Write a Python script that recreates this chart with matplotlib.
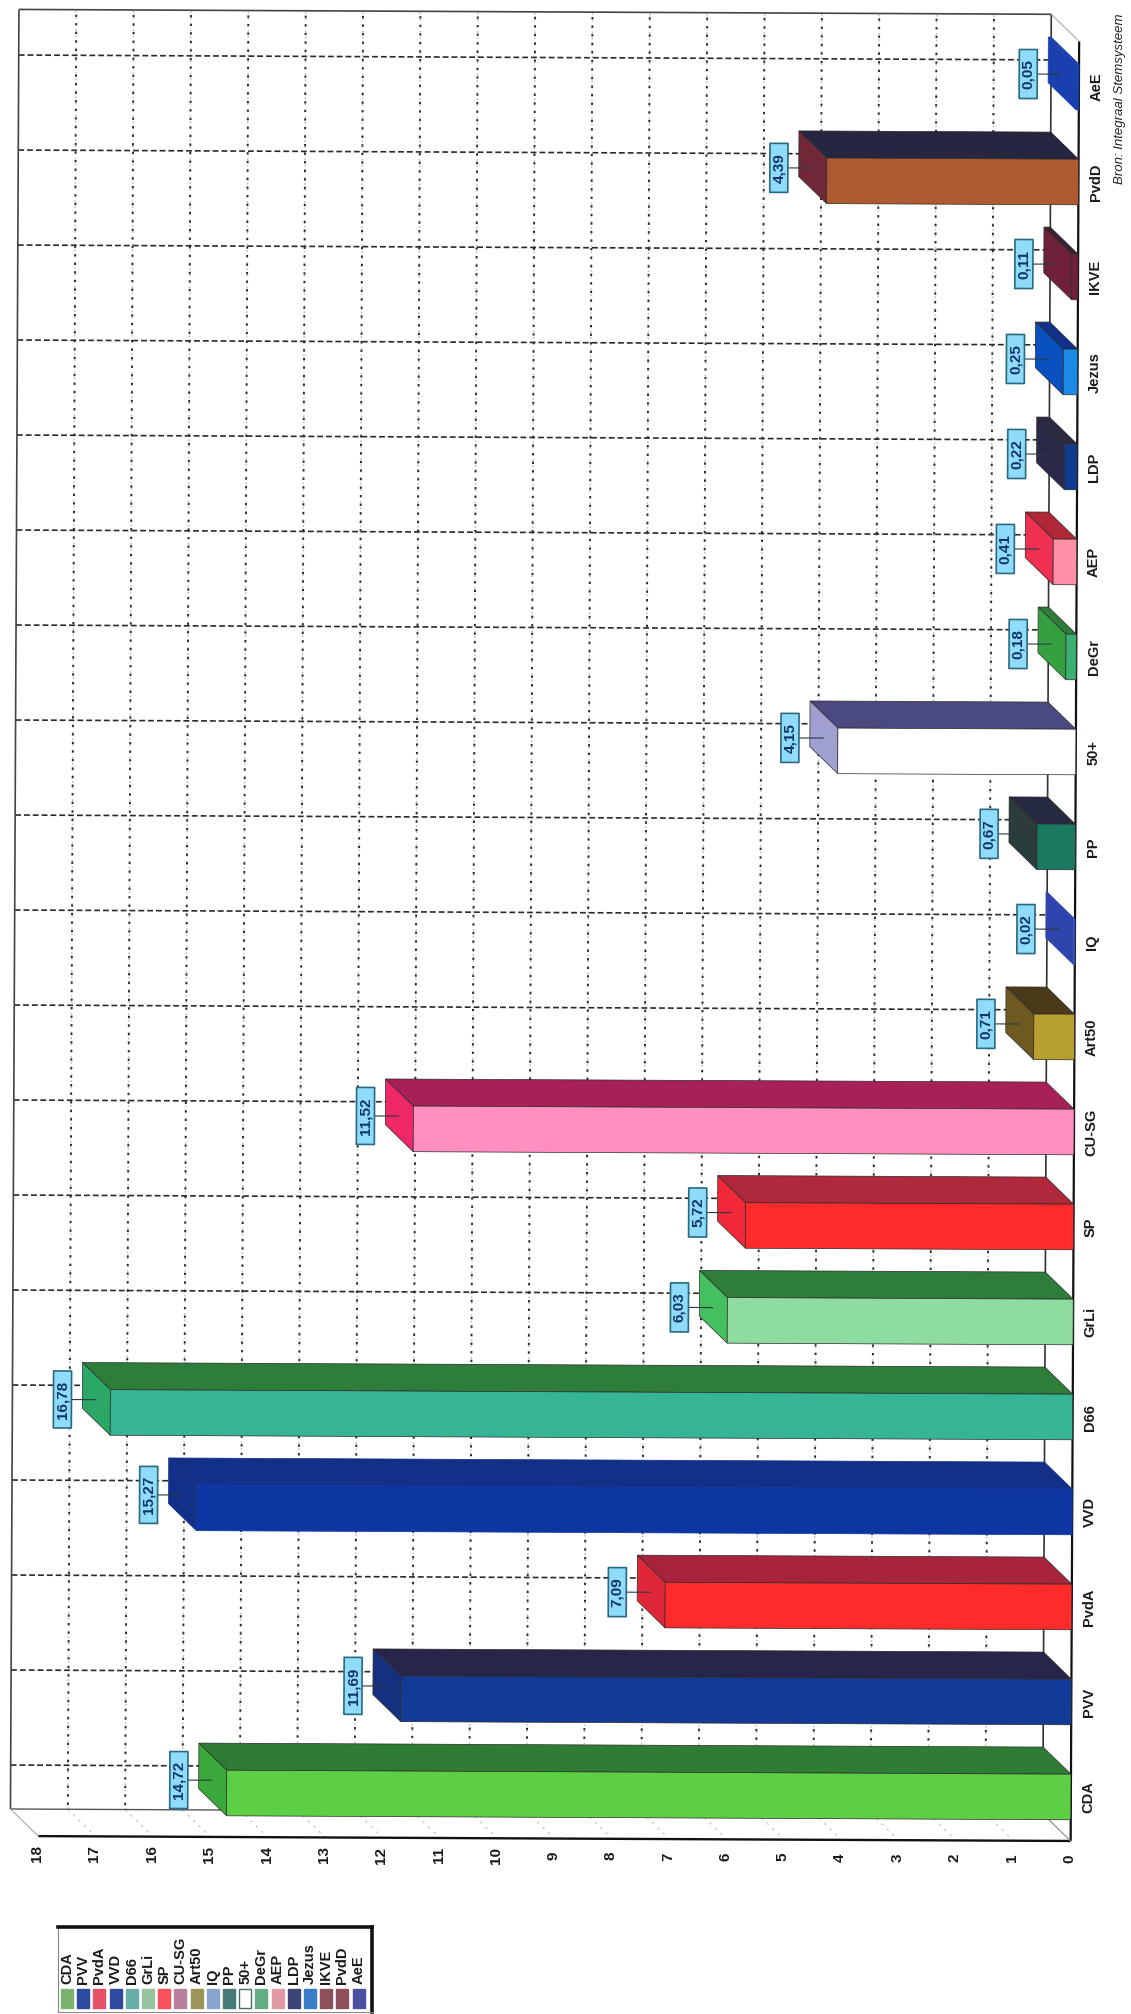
import matplotlib
matplotlib.use('Agg')
import matplotlib.pyplot as plt
from matplotlib.patches import Polygon, Rectangle
from matplotlib.transforms import Affine2D

plt.rcParams['font.family'] = ['Liberation Sans', 'DejaVu Sans']

categories = ['CDA', 'PVV', 'PvdA', 'VVD', 'D66', 'GrLi', 'SP', 'CU-SG', 'Art50', 'IQ',
              'PP', '50+', 'DeGr', 'AEP', 'LDP', 'Jezus', 'IKVE', 'PvdD', 'AeE']
values = [14.72, 11.69, 7.09, 15.27, 16.78, 6.03, 5.72, 11.52, 0.71, 0.02,
          0.67, 4.15, 0.18, 0.41, 0.22, 0.25, 0.11, 4.39, 0.05]
top_colors = ['#2f7d34', '#27264a', '#a8243c', '#133088', '#2e7d3a', '#2e7d3a', '#b0283c', '#a82058', '#4a3a1a', '#2f45ad',
              '#262a40', '#4a4a80', '#2e7d3a', '#b02838', '#2a2a40', '#10308a', '#3a2030', '#262640', '#1a40b0']
end_colors = ['#3aa83a', '#14307f', '#e0273a', '#133088', '#2ba866', '#45c060', '#f02838', '#f02868', '#6e5a20', '#2f45ad',
              '#2c3c3c', '#a0a0d0', '#35a040', '#f03050', '#2a2a48', '#0a50c0', '#702038', '#702838', '#1a40b0']
front_colors = ['#5ccf45', '#123a96', '#ff2a2a', '#0d36a3', '#35b595', '#8edca0', '#ff2a2a', '#ff8fc0', '#b8a030', '#3a50c0',
                '#1a7a60', '#ffffff', '#3cb070', '#ff90a8', '#123a90', '#1a8ae8', '#702038', '#b05a30', '#1a40b0']
legend_colors = ['#7ab46e', '#2d4a9e', '#e8506a', '#2d4a9e', '#68aea6', '#96c4a0', '#f5525a', '#b8809a', '#9c9458', '#8aa6d0',
                 '#467a78', '#ffffff', '#68ac84', '#e09aa6', '#3c4478', '#3a7cc8', '#8e5058', '#8e5058', '#4c50a0']
value_ticks = list(range(0, 19))

# 3d look: offset of the front plane against the back wall
DEPTH_V = 0.488
DEPTH_C = 0.284
HALF = 0.24
C_BOTTOM = -0.463
C_TOP = 18.48
GRID = '#2a2a2a'


def front(v, c):
    return v - DEPTH_V, c - DEPTH_C


fig = plt.figure(figsize=(11.31, 20.14), dpi=100)
ax = fig.add_axes([0, 0, 1, 1])
ax.set_xlim(18.186, -1.534)
ax.set_ylim(-2.621, 18.579)
ax.axis('off')

# the page was scanned slightly crooked
T = ax.transData + Affine2D().rotate_deg_around(10, 249, -0.27)


def line(xs, ys, **kw):
    ax.plot(xs, ys, transform=T, solid_capstyle='butt', **kw)


# grid on the back wall
for v in value_ticks[1:18]:
    line([v, v], [C_BOTTOM, C_TOP], color='#bbbbbb', lw=1.0, ls=(0, (1.2, 3.2)), zorder=1)
    line([v, v], [C_BOTTOM, C_TOP], color=GRID, lw=1.4, ls=(2.2, (1.2, 3.2)), zorder=1)
for i in range(len(categories)):
    line([18, 0], [i, i], color=GRID, lw=1.2, ls=(0, (3.5, 1.8)), zorder=1)

# side plane, only faint ticks
for v in value_ticks[1:18]:
    x0, y0 = front(v, C_BOTTOM)
    line([v, x0], [C_BOTTOM, y0], color='#c4c4c4', lw=0.9, ls=(0, (2, 4)), zorder=1)

# frame
fx0, fy0 = front(0, C_BOTTOM)
fx18, fy18 = front(18, C_BOTTOM)
fx1, fy1 = front(0, C_TOP)
line([18, 18], [C_BOTTOM, C_TOP], color='#444444', lw=1.2, zorder=2)
line([18, 0], [C_TOP, C_TOP], color='#444444', lw=1.2, zorder=2)
line([18, 0], [C_BOTTOM, C_BOTTOM], color='#555555', lw=1.0, zorder=2)
line([0, 0], [C_BOTTOM, C_TOP], color='#333333', lw=1.2, zorder=2)
line([fx18, fx0], [fy18, fy0], color='#111111', lw=1.7, zorder=2)
line([fx0, fx1], [fy0, fy1], color='#111111', lw=1.6, zorder=2)
line([18, fx18], [C_BOTTOM, fy18], color='#aaaaaa', lw=0.8, zorder=2)
line([0, fx0], [C_BOTTOM, fy0], color='#888888', lw=0.8, zorder=2)
line([0, fx1], [C_TOP, fy1], color='#aaaaaa', lw=0.8, zorder=2)

# bars
for i, v in enumerate(values):
    c_hi = i + HALF
    c_lo = i - HALF
    top = [(v, c_hi), (0, c_hi), front(0, c_hi), front(v, c_hi)]
    end = [(v, c_hi), (v, c_lo), front(v, c_lo), front(v, c_hi)]
    face = [front(v, c_hi), front(0, c_hi), front(0, c_lo), front(v, c_lo)]
    # single colour blocks show no inner edges
    plain = top_colors[i] == end_colors[i]
    ax.add_patch(Polygon(top, closed=True, fc=top_colors[i], ec=top_colors[i] if plain else '#2a2a2a',
                         lw=0.5, transform=T, zorder=3))
    ax.add_patch(Polygon(end, closed=True, fc=end_colors[i], ec=end_colors[i] if plain else '#2a2a2a',
                         lw=0.5, transform=T, zorder=3))
    ax.add_patch(Polygon(face, closed=True, fc=front_colors[i], ec=front_colors[i] if plain else '#2a2a2a',
                         lw=0.5, transform=T, zorder=3))

    # value label with its leader
    text = f'{v:.2f}'.replace('.', ',')
    box_w = 0.314
    box_h = 0.6 if len(text) == 5 else 0.516
    box_right = v + 0.19
    box_c = i - 0.15
    line([box_right, v - 0.24], [box_c, box_c], color='#2a3a44', lw=0.8, zorder=4)
    ax.add_patch(Rectangle((box_right, box_c - box_h / 2), box_w, box_h, fc='#8fdcfa', ec='#2a6a80',
                           lw=1.2, joinstyle='round', transform=T, zorder=5))
    ax.text(box_right + box_w / 2, box_c, text, rotation=90, ha='center', va='center', fontsize=11,
            fontweight='bold', color='#12336b', transform=T, zorder=6)

    # category name
    ax.text(-0.79, i - DEPTH_C, categories[i], rotation=90, ha='center', va='center', fontsize=10.5,
            fontweight='bold', color='#1a1a1a', transform=T)

for v in value_ticks:
    ax.text(v - DEPTH_V + 0.02, -0.93, str(v), rotation=90, ha='center', va='center', fontsize=11,
            fontweight='bold', color='#1a1a1a', transform=T)

fig.text(1120 / 1131, 1 - 99 / 2014, 'Bron: Integraal Stemsysteem', rotation=90, ha='center', va='center',
         fontsize=9.5, style='italic', color='#222222')

# legend box
leg = fig.add_axes([58 / 1131, 1 - 2012 / 2014, 314 / 1131, 85 / 2014])
leg.set_xlim(-0.556, 18.83)
leg.set_ylim(85, 0)
leg.set_xticks([])
leg.set_yticks([])
leg.spines['top'].set_linewidth(2.6)
leg.spines['right'].set_linewidth(2.6)
leg.spines['top'].set_color('#111111')
leg.spines['right'].set_color('#111111')
leg.spines['left'].set_linewidth(0.8)
leg.spines['left'].set_color('#888888')
leg.spines['bottom'].set_linewidth(0.8)
leg.spines['bottom'].set_color('#888888')
for i, name in enumerate(categories):
    edge = '#4a6e6a' if name == '50+' else legend_colors[i]
    leg.bar(i, 19, bottom=62, width=0.74, color=legend_colors[i], edgecolor=edge, linewidth=1)
    leg.text(i, 57, name, rotation=90, ha='center', va='bottom', fontsize=10.5, fontweight='bold', color='#1a1a1a')

fig.savefig('out.png', dpi=100, facecolor='white')
